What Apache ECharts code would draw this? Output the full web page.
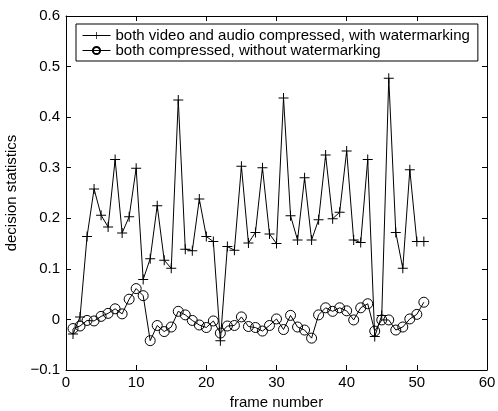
<!DOCTYPE html>
<html>
<head>
<meta charset="utf-8">
<script src="https://cdn.jsdelivr.net/npm/echarts@6/dist/echarts.min.js"></script>
<style>html,body{margin:0;padding:0;background:#fff}#c{width:498px;height:411px}</style>
</head>
<body>
<div id="c"></div>
<script>
const frames = [1,2,3,4,5,6,7,8,9,10,11,12,13,14,15,16,17,18,19,20,21,22,23,24,25,26,27,28,29,30,31,32,33,34,35,36,37,38,39,40,41,42,43,44,45,46,47,48,49,50,51];
const withWatermark = [-0.029,0.005,0.164,0.258,0.206,0.183,0.316,0.171,0.203,0.299,0.079,0.12,0.225,0.117,0.101,0.434,0.139,0.136,0.238,0.164,0.154,-0.042,0.144,0.137,0.303,0.151,0.172,0.3,0.169,0.15,0.438,0.205,0.157,0.28,0.157,0.197,0.325,0.199,0.212,0.333,0.157,0.152,0.316,-0.034,0.008,0.477,0.172,0.101,0.296,0.154,0.154];
const withoutWatermark = [-0.018,-0.013,-0.002,-0.003,0.006,0.012,0.021,0.011,0.04,0.061,0.047,-0.042,-0.012,-0.024,-0.015,0.016,0.009,-0.002,-0.011,-0.016,-0.003,-0.027,-0.013,-0.012,0.005,-0.014,-0.016,-0.023,-0.012,0.001,-0.02,0.008,-0.015,-0.021,-0.037,0.009,0.023,0.016,0.023,0.017,-0.001,0.023,0.031,-0.023,-0.001,-0.001,-0.021,-0.015,0.001,0.01,0.034];
const seriesNames = ['both video and audio compressed, with watermarking','both compressed, without watermarking'];
const xTicks = {min:0,max:60,interval:10};
const yTicks = {min:-0.1,max:0.6,interval:0.1};

const font = 'Liberation Sans, Arial, Helvetica, sans-serif';
const plus = 'path://M-0.1,-1H0.1V1H-0.1Z M-1,-0.1H1V0.1H-1Z';
const chart = echarts.init(document.getElementById('c'), null, {renderer:'canvas'});
const axisCommon = {
  axisLine:{show:true,onZero:false,lineStyle:{color:'#000',width:1}},
  axisTick:{show:true,inside:true,length:5,lineStyle:{color:'#000',width:1}},
  splitLine:{show:false}
};
chart.setOption({
  animation:false,
  backgroundColor:'#fff',
  grid:{left:66,right:11,top:16,bottom:41,containLabel:false,outerBoundsMode:'none'},
  legend:{
    orient:'vertical', left:76, top:24,
    backgroundColor:'#fff', borderColor:'#000', borderWidth:1,
    padding:[4,8,3,6], itemGap:0, itemWidth:28, itemHeight:9,
    lineStyle:{width:1},
    textStyle:{fontFamily:font,fontSize:15,color:'#000',lineHeight:15},
    data:seriesNames
  },
  xAxis:[
    Object.assign({type:'value',min:xTicks.min,max:xTicks.max,interval:xTicks.interval,position:'bottom',
      name:'frame number',nameLocation:'middle',nameGap:20,
      nameTextStyle:{fontFamily:font,fontSize:15,color:'#000'},
      axisLabel:{fontFamily:font,fontSize:15,color:'#000',margin:5}},axisCommon),
    Object.assign({type:'value',min:xTicks.min,max:xTicks.max,interval:xTicks.interval,position:'top',
      axisLabel:{show:false}},axisCommon)
  ],
  yAxis:[
    Object.assign({type:'value',min:yTicks.min,max:yTicks.max,interval:yTicks.interval,position:'left',
      name:'decision statistics',nameLocation:'middle',nameGap:37,
      nameTextStyle:{fontFamily:font,fontSize:15,color:'#000'},
      axisLabel:{fontFamily:font,fontSize:15,color:'#000',margin:6,formatter:v=>String(+v.toFixed(1)).replace('-','\u2212')}},axisCommon),
    Object.assign({type:'value',min:yTicks.min,max:yTicks.max,interval:yTicks.interval,position:'right',
      axisLabel:{show:false}},axisCommon)
  ],
  series:[
    {name:seriesNames[0],type:'line',xAxisIndex:0,yAxisIndex:0,
     data:frames.map((f,i)=>[f,withWatermark[i]]),
     symbol:plus,symbolSize:10,showAllSymbol:true,
     lineStyle:{color:'#000',width:1},itemStyle:{color:'#000'},emphasis:{disabled:true}},
    {name:seriesNames[1],type:'line',xAxisIndex:0,yAxisIndex:0,
     data:frames.map((f,i)=>[f,withoutWatermark[i]]),
     symbol:'circle',symbolSize:10,showAllSymbol:true,
     lineStyle:{color:'#000',width:1},itemStyle:{color:'rgba(0,0,0,0)',borderColor:'#000',borderWidth:1},emphasis:{disabled:true}}
  ]
});
</script>
</body>
</html>
